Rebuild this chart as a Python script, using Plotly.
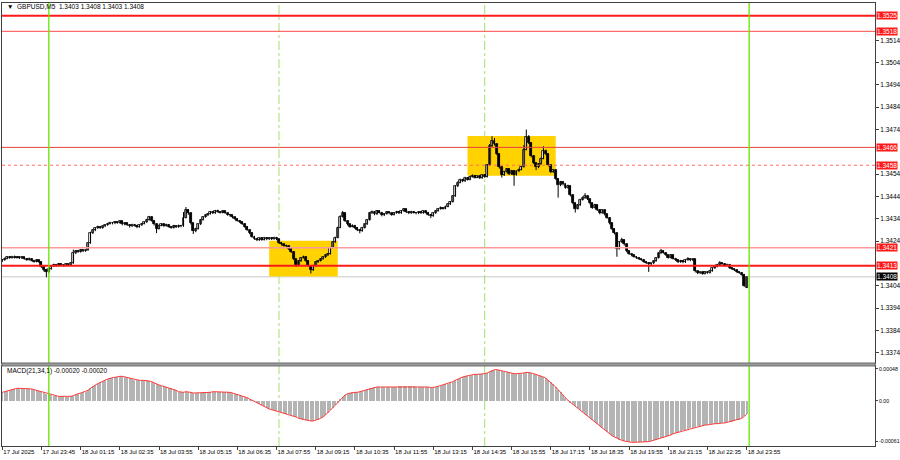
import plotly.graph_objects as go

# ---------------- DATA (prices as pip offsets from 1.3400) ----------------
BASE = 1.3400
PIP = 0.0001

bar_open = [
    15.0,15.5,16.2,16.8,16.5,17.0,16.6,16.9,16.4,16.8,
    16.0,15.6,16.2,15.3,14.8,15.4,14.6,12.5,11.0,10.2,
    11.5,12.8,13.5,12.9,13.8,13.4,13.0,13.6,13.2,14.0,
    18.5,19.6,19.2,20.0,19.5,19.8,23.0,27.5,28.8,29.8,
    30.5,29.9,30.6,31.2,31.8,32.3,31.9,32.6,32.2,32.8,
    31.5,32.0,31.2,30.6,31.4,31.0,30.2,31.1,31.8,32.4,
    33.5,34.6,33.2,31.5,29.5,31.0,31.6,30.8,31.4,30.5,
    30.0,30.9,30.3,31.0,30.6,34.5,38.0,36.5,32.0,28.5,
    29.5,31.5,33.5,34.8,35.5,36.2,37.0,36.5,37.6,37.2,
    36.8,37.4,36.6,35.8,35.5,34.6,34.0,33.2,32.5,31.8,
    30.5,29.0,27.6,26.0,25.0,24.4,25.2,24.6,25.5,24.8,
    25.4,24.9,25.6,24.8,23.2,22.5,22.0,21.6,20.5,19.2,
    16.0,13.5,15.0,16.5,17.0,15.2,13.0,11.0,13.0,14.5,
    15.2,16.0,16.8,17.6,18.2,21.0,23.5,25.5,30.0,35.0,
    36.5,33.0,31.5,30.5,31.0,30.0,29.0,28.5,30.0,31.5,
    33.5,36.5,37.2,36.0,37.5,36.8,35.5,36.2,37.0,36.4,
    35.8,36.6,37.2,36.5,37.5,38.2,37.0,36.5,37.2,36.8,
    36.4,37.0,36.6,37.3,36.8,35.8,35.2,36.5,37.5,38.4,
    39.0,38.6,39.5,40.5,41.6,44.0,48.5,50.2,51.5,50.8,
    52.4,51.6,52.8,53.4,52.5,53.0,52.2,53.5,52.8,58.0,
    66.5,69.0,67.5,63.0,57.0,53.5,55.0,56.2,54.0,55.5,
    53.8,55.2,56.0,57.2,65.0,70.5,68.0,62.0,59.0,57.0,
    58.5,61.0,64.5,63.0,58.0,55.0,55.8,52.0,49.0,50.5,
    49.5,48.0,48.8,44.5,41.0,38.5,40.0,42.5,43.5,44.0,
    42.8,41.0,39.0,40.2,38.0,36.5,37.8,36.0,34.5,32.0,
    29.5,27.5,20.5,23.5,24.5,22.5,19.5,18.2,17.6,17.0,
    16.5,16.0,15.6,14.8,14.2,13.6,14.0,15.0,16.5,18.5,
    19.6,18.8,17.8,16.6,17.6,16.2,15.5,14.6,15.2,14.5,
    15.5,16.0,15.4,15.8,10.5,9.6,10.0,9.4,10.2,9.8,
    10.6,11.8,12.6,13.4,14.2,13.8,13.0,13.5,12.0,11.5,
    11.0,10.2,9.8,9.0,3.0,
]

bar_close = [
    15.5,16.2,16.8,16.5,17.0,16.6,16.9,16.4,16.8,16.0,
    15.6,16.2,15.3,14.8,15.4,14.6,12.5,11.0,10.2,11.5,
    12.8,13.5,12.9,13.8,13.4,13.0,13.6,13.2,14.0,18.5,
    19.6,19.2,20.0,19.5,19.8,23.0,27.5,28.8,29.8,30.5,
    29.9,30.6,31.2,31.8,32.3,31.9,32.6,32.2,32.8,31.5,
    32.0,31.2,30.6,31.4,31.0,30.2,31.1,31.8,32.4,33.5,
    34.6,33.2,31.5,29.5,31.0,31.6,30.8,31.4,30.5,30.0,
    30.9,30.3,31.0,30.6,34.5,38.0,36.5,32.0,28.5,29.5,
    31.5,33.5,34.8,35.5,36.2,37.0,36.5,37.6,37.2,36.8,
    37.4,36.6,35.8,35.5,34.6,34.0,33.2,32.5,31.8,30.5,
    29.0,27.6,26.0,25.0,24.4,25.2,24.6,25.5,24.8,25.4,
    24.9,25.6,24.8,23.2,22.5,22.0,21.6,20.5,19.2,16.0,
    13.5,15.0,16.5,17.0,15.2,13.0,11.0,13.0,14.5,15.2,
    16.0,16.8,17.6,18.2,21.0,23.5,25.5,30.0,35.0,36.5,
    33.0,31.5,30.5,31.0,30.0,29.0,28.5,30.0,31.5,33.5,
    36.5,37.2,36.0,37.5,36.8,35.5,36.2,37.0,36.4,35.8,
    36.6,37.2,36.5,37.5,38.2,37.0,36.5,37.2,36.8,36.4,
    37.0,36.6,37.3,36.8,35.8,35.2,36.5,37.5,38.4,39.0,
    38.6,39.5,40.5,41.6,44.0,48.5,50.2,51.5,50.8,52.4,
    51.6,52.8,53.4,52.5,53.0,52.2,53.5,52.8,58.0,66.5,
    69.0,67.5,63.0,57.0,53.5,55.0,56.2,54.0,55.5,53.8,
    55.2,56.0,57.2,65.0,70.5,68.0,62.0,59.0,57.0,58.5,
    61.0,64.5,63.0,58.0,55.0,55.8,52.0,49.0,50.5,49.5,
    48.0,48.8,44.5,41.0,38.5,40.0,42.5,43.5,44.0,42.8,
    41.0,39.0,40.2,38.0,36.5,37.8,36.0,34.5,32.0,29.5,
    27.5,20.5,23.5,24.5,22.5,19.5,18.2,17.6,17.0,16.5,
    16.0,15.6,14.8,14.2,13.6,14.0,15.0,16.5,18.5,19.6,
    18.8,17.8,16.6,17.6,16.2,15.5,14.6,15.2,14.5,15.5,
    16.0,15.4,15.8,10.5,9.6,10.0,9.4,10.2,9.8,10.6,
    11.8,12.6,13.4,14.2,13.8,13.0,13.5,12.0,11.5,11.0,
    10.2,9.8,9.0,4.0,8.0,
]

bar_high = [
    16.0,16.6,17.3,17.2,17.4,17.5,17.3,17.2,17.1,17.0,
    16.4,16.6,16.4,15.6,15.8,15.6,14.9,12.9,11.6,12.0,
    13.2,13.9,13.8,14.2,14.1,13.7,14.0,13.9,14.5,20.2,
    20.0,20.1,20.4,20.3,20.2,23.5,28.2,29.3,30.2,30.9,
    30.8,31.0,31.6,32.2,32.7,32.6,33.0,32.9,33.2,33.0,
    32.4,32.3,31.5,31.8,31.7,31.3,31.5,32.2,32.8,34.0,
    35.3,34.9,33.5,31.8,31.4,32.0,31.9,31.8,31.7,30.8,
    31.3,31.2,31.4,31.3,37.0,39.3,38.4,36.8,32.3,30.0,
    31.9,33.9,35.2,36.0,36.6,37.5,37.4,38.0,38.1,37.5,
    37.8,37.7,36.9,36.2,35.8,35.0,34.3,33.5,32.8,32.0,
    30.8,29.3,27.9,26.4,25.4,25.6,25.5,25.9,25.8,25.8,
    25.7,26.0,25.9,25.0,23.6,22.9,22.4,21.9,20.8,19.5,
    16.3,15.4,16.9,17.5,17.3,15.5,13.3,13.4,14.9,15.6,
    16.4,17.2,18.0,18.7,21.4,23.9,26.0,30.5,35.6,37.5,
    36.8,33.4,31.8,31.5,31.3,30.3,29.4,30.4,31.9,33.9,
    37.0,37.7,37.5,37.9,37.8,37.1,36.6,37.4,37.3,36.7,
    37.0,37.6,37.5,37.9,38.7,38.5,37.3,37.6,37.5,37.1,
    37.4,37.3,37.7,37.6,37.1,36.1,36.9,37.9,38.8,39.5,
    39.3,39.9,40.9,42.0,44.5,49.0,50.8,52.0,51.9,52.8,
    52.7,53.2,53.9,53.7,53.4,53.3,53.9,53.8,58.5,67.5,
    71.0,70.2,67.8,63.3,57.3,55.5,56.7,56.5,55.9,55.8,
    55.6,56.5,57.7,67.0,74.0,71.5,68.3,62.4,59.3,59.0,
    61.5,66.5,65.0,63.3,58.3,56.3,56.1,52.3,51.0,50.9,
    49.8,49.3,49.0,44.8,41.3,40.5,43.0,44.0,45.5,44.3,
    43.1,41.3,40.7,40.5,38.3,38.3,38.1,36.3,34.8,32.3,
    29.8,27.8,24.0,25.5,24.8,22.8,19.8,18.6,17.9,17.3,
    16.8,16.3,15.9,15.1,14.5,14.4,15.4,16.9,18.9,20.5,
    19.9,19.1,18.1,18.0,17.9,16.5,15.8,15.6,15.5,15.9,
    16.8,16.3,16.2,16.0,10.8,10.4,10.3,10.6,10.5,11.0,
    12.2,13.0,13.8,15.0,14.5,14.1,13.9,13.8,12.3,11.8,
    11.3,10.5,10.1,9.3,8.0,
]

bar_low = [
    14.6,15.2,15.9,16.1,16.2,16.3,16.2,16.0,16.1,15.7,
    15.2,15.3,15.0,14.4,14.5,14.2,12.0,10.4,7.8,9.6,
    11.2,12.5,12.5,12.6,13.0,12.6,12.8,12.9,13.0,13.8,
    18.2,18.8,18.9,19.1,19.2,19.6,22.8,27.2,28.5,29.5,
    29.5,29.6,30.3,30.9,31.5,31.5,31.6,31.8,31.9,31.1,
    31.1,30.8,30.1,30.3,30.6,29.8,30.0,30.8,31.5,32.1,
    33.2,32.8,31.0,27.6,29.2,30.7,30.4,30.5,30.1,29.6,
    29.7,29.9,30.0,30.2,30.4,34.2,35.8,31.5,27.2,28.0,
    29.2,31.2,33.2,34.5,35.2,35.9,36.1,36.2,36.8,36.4,
    36.5,36.2,35.4,35.0,34.2,33.6,32.8,32.1,31.3,30.0,
    28.6,27.1,25.5,24.6,24.0,24.1,24.2,24.3,24.4,24.5,
    24.5,24.6,24.4,22.8,22.0,21.6,21.0,20.0,18.7,15.5,
    12.4,13.2,14.7,16.2,14.8,12.5,9.5,10.6,12.7,14.2,
    14.9,15.7,16.5,17.3,18.0,20.8,23.2,25.3,29.8,34.6,
    32.6,31.0,30.0,30.2,29.5,28.5,27.5,28.2,29.7,31.2,
    33.2,36.2,35.6,35.7,36.4,35.1,35.2,35.9,36.0,35.4,
    35.5,36.3,36.1,36.2,37.2,36.6,36.1,36.2,36.4,36.0,
    36.1,36.2,36.3,36.4,35.4,34.3,34.9,36.2,37.2,38.1,
    38.2,38.3,39.2,40.2,41.3,43.8,48.2,49.9,50.4,50.5,
    51.2,51.3,52.5,52.1,52.2,51.8,51.9,52.4,52.5,57.7,
    66.0,66.8,62.5,56.5,52.5,53.2,54.7,53.6,53.7,48.8,
    53.4,54.9,55.7,57.0,64.7,67.5,61.5,58.5,55.8,56.7,
    58.2,60.7,62.5,57.5,54.5,54.6,51.5,43.5,48.6,49.0,
    47.5,47.6,44.0,40.5,36.8,38.2,39.7,42.2,43.0,42.4,
    40.5,38.5,38.7,37.5,36.0,36.2,35.5,34.0,31.5,29.0,
    27.0,17.0,20.2,23.2,22.0,19.0,17.8,17.2,16.6,16.1,
    15.6,15.2,14.4,13.8,10.2,13.3,13.7,14.7,16.2,18.2,
    18.4,17.4,16.2,16.3,15.8,15.1,14.2,14.3,14.1,14.2,
    15.2,15.0,15.1,10.0,9.2,9.3,9.0,9.1,9.4,9.5,
    10.3,11.5,12.3,13.1,13.4,12.6,12.7,11.6,11.1,10.6,
    9.8,9.4,8.6,3.5,3.0,
]

# MACD(21,34,1) main value, in units of 1e-5
macd_e5 = [
    13,14,15,17,18,18,19,19,19,19,
    19,18,18,17,16,15,14,12,11,10,
    9,8,7,7,7,7,6,6,7,8,
    10,11,12,13,14,16,19,22,24,26,
    28,30,31,33,34,35,36,36,37,37,
    36,35,34,33,32,31,31,31,31,31,
    30,29,27,25,24,23,22,21,20,19,
    18,16,14,13,13,14,14,13,12,12,
    12,12,13,13,13,13,14,14,14,14,
    14,14,13,13,12,11,10,9,8,6,
    5,3,1,0,-2,-4,-6,-8,-10,-12,
    -13,-14,-15,-16,-17,-18,-19,-20,-21,-22,
    -24,-26,-27,-28,-29,-30,-30,-30,-29,-28,
    -26,-24,-21,-18,-14,-10,-6,-2,2,6,
    9,11,12,13,13,13,14,15,16,18,
    19,20,21,21,21,21,21,21,21,21,
    21,21,22,22,22,22,22,22,22,21,
    21,21,21,21,21,20,20,21,22,23,
    24,25,26,27,29,31,33,35,36,37,
    38,38,39,40,40,40,41,41,42,44,
    46,47,47,46,45,44,43,43,42,41,
    41,41,41,42,43,43,42,41,40,39,
    38,36,34,31,28,25,21,17,13,9,
    4,1,-2,-5,-8,-11,-14,-17,-20,-23,
    -26,-29,-32,-35,-38,-41,-44,-47,-50,-52,
    -54,-56,-58,-59,-60,-61,-61,-62,-62,-62,
    -62,-62,-62,-61,-61,-60,-59,-58,-57,-56,
    -55,-54,-52,-51,-49,-48,-46,-45,-44,-43,
    -42,-41,-40,-39,-38,-37,-37,-36,-36,-35,
    -35,-34,-34,-33,-33,-33,-32,-32,-31,-30,
    -29,-28,-26,-23,-20,
]

time_labels = [
    "17 Jul 2025", "17 Jul 23:45", "18 Jul 01:15", "18 Jul 02:35", "18 Jul 03:55",
    "18 Jul 05:15", "18 Jul 06:35", "18 Jul 07:55", "18 Jul 09:15", "18 Jul 10:35",
    "18 Jul 11:55", "18 Jul 13:15", "18 Jul 14:35", "18 Jul 15:55", "18 Jul 17:15",
    "18 Jul 18:35", "18 Jul 19:55", "18 Jul 21:15", "18 Jul 22:35", "18 Jul 23:55",
]
BARS_PER_LABEL = 16

price_ticks = [1.3374, 1.3384, 1.3394, 1.3404, 1.3424, 1.3434, 1.3444,
               1.3454, 1.3474, 1.3484, 1.3494, 1.3504, 1.3514]
macd_ticks = [0.00048, 0.0, -0.00061]
macd_tick_text = ["0.00048", "0.00", "-0.00061"]

levels = [1.3525, 1.3518, 1.3466, 1.3458, 1.3421, 1.3413]
session_bars = [19, 305]       # solid green day separators
marker_bars = [113, 197]       # dash-dot green markers
zone_start = [109, 190]
zone_end = [137, 226]
zone_low = [1.34081, 1.34533]
zone_high = [1.34242, 1.34711]

# ---------------- STYLES ----------------
level_styles = [
    dict(color="#ff1a1a", width=2, dash="solid"),
    dict(color="#ff4a4a", width=1, dash="solid"),
    dict(color="#e84040", width=1, dash="solid"),
    dict(color="#ff6a6a", width=1, dash="dot"),
    dict(color="#ff9a9a", width=1.6, dash="solid"),
    dict(color="#ff1a1a", width=2, dash="solid"),
]
FONT = "Liberation Sans"

# ---------------- BUILD ----------------
n = len(bar_close)
xs = list(range(n))
o = [round(BASE + v * PIP, 5) for v in bar_open]
h = [round(BASE + v * PIP, 5) for v in bar_high]
l = [round(BASE + v * PIP, 5) for v in bar_low]
c = [round(BASE + v * PIP, 5) for v in bar_close]
macd = [v * 1e-5 for v in macd_e5]
bid = c[-1]
MIN_BODY = 0.000015

fig = go.Figure()

# wicks
wx, wy = [], []
for i in xs:
    wx += [i, i, None]
    wy += [l[i], h[i], None]
fig.add_trace(go.Scatter(x=wx, y=wy, mode="lines", line=dict(color="#000000", width=1),
                         xaxis="x", yaxis="y", showlegend=False, hoverinfo="skip"))

# bodies
up = [i for i in xs if c[i] >= o[i]]
dn = [i for i in xs if c[i] < o[i]]
fig.add_trace(go.Bar(
    x=up, base=[o[i] for i in up], y=[max(c[i] - o[i], MIN_BODY) for i in up],
    width=0.8, marker=dict(color="#ffffff", line=dict(color="#000000", width=0.8)),
    xaxis="x", yaxis="y", showlegend=False, hoverinfo="skip"))
fig.add_trace(go.Bar(
    x=dn, base=[c[i] for i in dn], y=[max(o[i] - c[i], MIN_BODY) for i in dn],
    width=0.8, marker=dict(color="#000000", line=dict(color="#000000", width=0.8)),
    xaxis="x", yaxis="y", showlegend=False, hoverinfo="skip"))

fig.add_trace(go.Bar(
    x=xs, y=macd, width=0.45, marker=dict(color="#b4b4b4", line=dict(width=0)),
    xaxis="x2", yaxis="y2", showlegend=False, hoverinfo="skip",
))
fig.add_trace(go.Scatter(
    x=xs, y=macd, mode="lines", line=dict(color="#ff3b3b", width=1),
    xaxis="x2", yaxis="y2", showlegend=False, hoverinfo="skip",
))

shapes = []
for s, e, lo, hi in zip(zone_start, zone_end, zone_low, zone_high):
    shapes.append(dict(type="rect", xref="x", yref="y", x0=s, x1=e, y0=lo, y1=hi,
                       fillcolor="#ffd200", line=dict(width=0), layer="below"))
for lv, st in zip(levels, level_styles):
    shapes.append(dict(type="line", xref="paper", yref="y", x0=0, x1=1, y0=lv, y1=lv,
                       line=st, layer="above"))
shapes.append(dict(type="line", xref="paper", yref="y", x0=0, x1=1, y0=bid, y1=bid,
                   line=dict(color="#c8c8c8", width=1), layer="below"))
for b in session_bars:
    shapes.append(dict(type="line", xref="x", yref="paper", x0=b, x1=b, y0=0, y1=1,
                       line=dict(color="#66e600", width=1.3), layer="above"))
for b in marker_bars:
    shapes.append(dict(type="line", xref="x", yref="paper", x0=b, x1=b, y0=0, y1=1,
                       line=dict(color="#a0e070", width=1, dash="dashdot"), layer="below"))
MAIN_BOTTOM = 0.1874
MACD_TOP = 0.1806
shapes.append(dict(type="rect", xref="paper", yref="paper", x0=0, x1=1,
                   y0=MACD_TOP, y1=MAIN_BOTTOM, fillcolor="#9a9a9a",
                   line=dict(color="#707070", width=1), layer="above"))

annotations = []
for lv in levels:
    annotations.append(dict(xref="paper", yref="y", x=1, y=lv, xanchor="left", yanchor="middle",
                            xshift=1, text=f"{lv:.4f}", showarrow=False,
                            font=dict(family=FONT, size=6.5, color="#ffffff"),
                            bgcolor="#ff1a1a", borderpad=0))
annotations.append(dict(xref="paper", yref="y", x=1, y=bid, xanchor="left", yanchor="middle",
                        xshift=1, text=f"{bid:.4f}", showarrow=False,
                        font=dict(family=FONT, size=6.5, color="#ffffff"),
                        bgcolor="#000000", borderpad=0))
annotations.append(dict(xref="paper", yref="paper", x=0.003, y=0.993, xanchor="left", yanchor="middle",
                        text=f"▼  GBPUSD,M5  {o[-1]:.4f} {h[-1]:.4f} {l[-1]:.4f} {c[-1]:.4f}",
                        showarrow=False, font=dict(family=FONT, size=6.5, color="#000000")))
annotations.append(dict(xref="paper", yref="paper", x=0.003, y=MACD_TOP - 0.012, xanchor="left",
                        yanchor="middle",
                        text=f"MACD(21,34,1) {macd[-1]:.5f} {macd[-1]:.5f}",
                        showarrow=False, font=dict(family=FONT, size=6.5, color="#000000")))

tick_vals = [i * BARS_PER_LABEL for i in range(len(time_labels))]
x_range = [-0.12, 356.4]

axis_common = dict(showgrid=False, zeroline=False, showline=True, mirror=True,
                   linecolor="#404040", linewidth=1, automargin=False)

fig.update_layout(
    width=900, height=460,
    margin=dict(l=2, r=25, t=3, b=14, autoexpand=False),
    paper_bgcolor="#ffffff", plot_bgcolor="#ffffff",
    showlegend=False, bargap=0, barmode="overlay",
    font=dict(family=FONT, size=6, color="#000000"),
    xaxis=dict(domain=[0, 1], range=x_range, anchor="y", showticklabels=False,
               ticks="", **axis_common),
    yaxis=dict(domain=[MAIN_BOTTOM, 1], range=[1.33694, 1.353069], side="right",
               tickvals=price_ticks, ticktext=[f"{t:.4f}" for t in price_ticks],
               ticks="outside", ticklen=3, tickcolor="#404040",
               tickfont=dict(family=FONT, size=6.5, color="#000000"), **axis_common),
    xaxis2=dict(domain=[0, 1], range=x_range, anchor="y2", matches="x",
                tickvals=tick_vals, ticktext=time_labels, ticks="outside", ticklen=3,
                tickangle=0, tickcolor="#404040", ticklabelposition="outside right",
                tickfont=dict(family=FONT, size=6, color="#000000"), **axis_common),
    yaxis2=dict(domain=[0, MACD_TOP], range=[-0.000675, 0.000525], side="right",
                tickvals=macd_ticks, ticktext=macd_tick_text,
                ticks="outside", ticklen=2, tickcolor="#404040",
                tickfont=dict(family=FONT, size=5.2, color="#000000"), **axis_common),
    shapes=shapes, annotations=annotations,
)

fig.write_html("out.html", config={"displayModeBar": False},
               post_script="document.body.style.margin='0px';document.body.style.overflow='hidden';")
